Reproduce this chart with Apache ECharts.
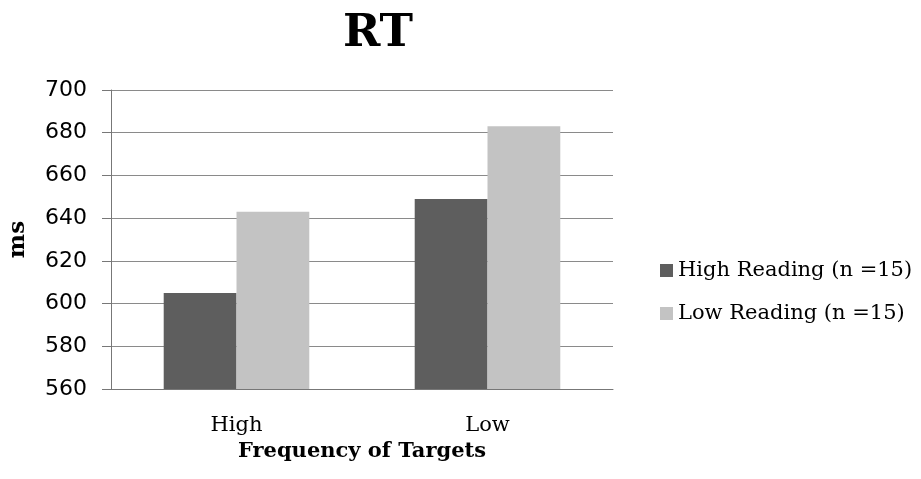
<!DOCTYPE html>
<html><head><meta charset="utf-8">
<script src="https://cdn.jsdelivr.net/npm/echarts@6/dist/echarts.min.js"></script>
<style>html,body{margin:0;padding:0;background:#fff}#c{width:921px;height:479px}</style>
</head><body><div id="c"></div>
<script>
var categories = ['High', 'Low'];
var seriesNames = ['High Reading (n =15)', 'Low Reading (n =15)'];
var highReading = [605, 649];
var lowReading = [643, 683];
var yTicks = [560, 580, 600, 620, 640, 660, 680, 700];

var chart = echarts.init(document.getElementById('c'));
var serif = '"DejaVu Serif", serif';
chart.setOption({
  backgroundColor: '#fff',
  animation: false,
  title: {
    text: 'RT', left: 373, top: 7, textAlign: 'center',
    textStyle: { fontFamily: serif, fontWeight: 'bold', fontSize: 45, color: '#000' }
  },
  legend: {
    orient: 'vertical', left: 655, top: 255, itemGap: 22,
    icon: 'rect', itemWidth: 13, itemHeight: 13,
    data: seriesNames,
    textStyle: { fontFamily: serif, fontSize: 21, color: '#000' }
  },
  grid: { left: 111, right: 308, top: 90, bottom: 90, containLabel: false, outerBoundsMode: 'none' },
  xAxis: {
    type: 'category', data: categories,
    name: 'Frequency of Targets', nameLocation: 'middle', nameGap: 52,
    nameTextStyle: { fontFamily: serif, fontWeight: 'bold', fontSize: 21, color: '#000' },
    axisLine: { lineStyle: { color: '#777', width: 1 } },
    axisTick: { show: false },
    axisLabel: { fontFamily: serif, fontSize: 21, color: '#000', margin: 26 }
  },
  yAxis: {
    type: 'value', min: 560, max: 700, interval: 20,
    name: 'ms', nameLocation: 'middle', nameGap: 81, nameRotate: 90,
    nameTextStyle: { fontFamily: serif, fontWeight: 'bold', fontSize: 23, color: '#000' },
    axisLine: { show: true, lineStyle: { color: '#777', width: 1 } },
    axisTick: { show: true, inside: false, length: 9, lineStyle: { color: '#777' } },
    splitLine: { lineStyle: { color: '#8a8a8a', width: 1 } },
    axisLabel: { fontFamily: '"DejaVu Sans", sans-serif', fontSize: 22, color: '#000', margin: 24,
      formatter: function (v) { return yTicks.indexOf(v) >= 0 ? String(v) : ''; } }
  },
  series: [
    { name: seriesNames[0], type: 'bar', data: highReading, barWidth: '29%', barGap: '0%',
      itemStyle: { color: '#5e5e5e' } },
    { name: seriesNames[1], type: 'bar', data: lowReading, barWidth: '29%', barGap: '0%',
      itemStyle: { color: '#c3c3c3' } }
  ]
});
</script></body></html>
